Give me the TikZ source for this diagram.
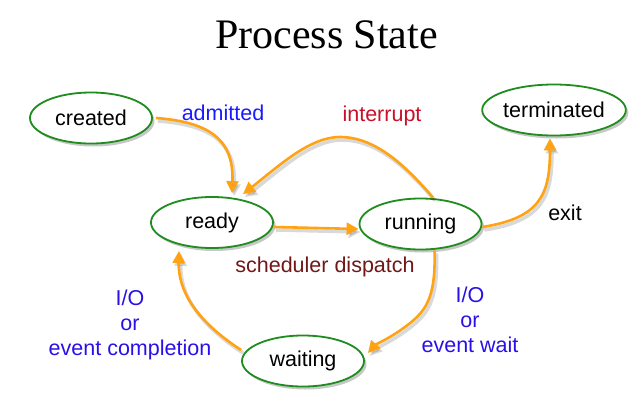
\documentclass[tikz,border=0pt]{standalone}
\usepackage{fontspec}
\setmainfont{Liberation Sans}
\newfontfamily\titlefont{Liberation Serif}
\usetikzlibrary{arrows.meta,shadows,calc,shapes.geometric}
\definecolor{stgreen}{HTML}{1E8C1E}
\definecolor{arrorange}{HTML}{FFA313}
\definecolor{lblblue}{HTML}{1A1AFF}
\definecolor{iovio}{HTML}{2A10E8}
\definecolor{intred}{HTML}{C8102A}
\definecolor{schedred}{HTML}{701818}
\tikzset{
  statenode/.style={ellipse, draw=stgreen, line width=1.8pt, fill=white,
    minimum width=122pt, minimum height=51pt, inner sep=0pt,
    font=\fontsize{21.5}{25}\selectfont,
    drop shadow={shadow xshift=2.5pt, shadow yshift=-3pt, opacity=0.22, fill=black}},
  trans/.style={draw=arrorange, line width=2.6pt,
    -{Triangle[length=12pt,width=12pt]},
    preaction={draw=black, opacity=0.15, line width=3.5pt,
      transform canvas={shift={(2pt,-3pt)}}}},
  lbl/.style={inner sep=0pt, anchor=base, align=center,
    font=\fontsize{21.5}{25}\selectfont},
}
\begin{document}
\begin{tikzpicture}[x=1pt,y=-1pt]
\useasboundingbox[fill=white] (0,0) rectangle (639,407);
\node[anchor=base, inner sep=0pt, font=\titlefont\fontsize{42}{46}\selectfont] (title) at (326.5,48) {Process State};
\node[statenode] (created) at (91,118) {created};
\node[statenode] (ready) at (212,222.5) {ready};
\node[statenode] (running) at (420.5,224) {running};
\node[statenode] (terminated) at (554,110) {terminated};
\node[statenode] (waiting) at (303,361) {waiting};
% transitions
\draw[trans] ([xshift=3pt]created.east) .. controls (210,122) and (234,140) .. ([xshift=20pt,yshift=3pt]ready.north);
\draw[trans] ([yshift=-4.5pt]ready.east) -- ([yshift=-5pt]running.west);
\draw[trans] ([xshift=12.5pt]running.north) .. controls (405,165) and (375,137) .. (340,137)
  .. controls (310,137) and (280,165) .. ([xshift=31pt,yshift=2pt]ready.north);
\draw[trans] ([yshift=-3pt]running.east) .. controls (540,218) and (550,195) .. ([xshift=-4pt,yshift=-2pt]terminated.south);
\draw[trans] ([xshift=14pt]running.south) .. controls (436,300) and (425,312) .. (405,327)
  .. controls (390,338) and (375,345) .. ([xshift=3pt,yshift=8pt]waiting.east);
\draw[trans] ([yshift=11pt]waiting.west) .. controls (195,320) and (178,290) .. ([xshift=-33pt,yshift=-2pt]ready.south);
% labels
\node[lbl, text=lblblue] (ladm) at (223,120) {admitted};
\node[lbl, text=intred] (lint) at (382,121) {interrupt};
\node[lbl, text=schedred] (lsch) at (325,272) {scheduler dispatch};
\node[lbl, text=black] (lexit) at (565,220) {exit};
\node[lbl, text=iovio] (lcomp) at (130,355) {I/O\\or\\event completion};
\node[lbl, text=iovio] (lwait) at (470,352) {I/O\\or\\event wait};
\end{tikzpicture}
\end{document}
